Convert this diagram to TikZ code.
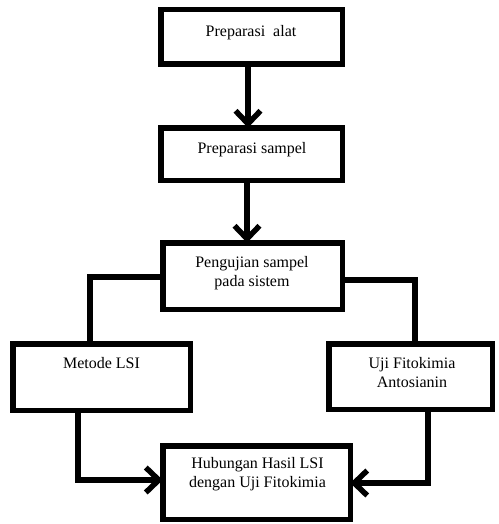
\documentclass[tikz,border=0pt]{standalone}
\usepackage{fontspec}
\setmainfont{Liberation Serif}
\usetikzlibrary{arrows.meta}
\begin{document}
\begin{tikzpicture}[x=1pt,y=-1pt,
  box/.style={draw=black,line width=5.5pt,fill=white,inner sep=0pt,outer sep=0pt},
  txt/.style={align=center,inner sep=0pt,font=\fontsize{16}{19.5}\selectfont},
  conn/.style={line width=5.5pt,line join=miter},
  arr/.style={conn,-{Straight Barb[length=13pt,width=25pt,line width=5.5pt]}}]
\useasboundingbox (0,0) rectangle (498,524);
\node[box,minimum width=181.5pt,minimum height=54.5pt] (b1) at (251.5,37) {};
\node[box,minimum width=181.5pt,minimum height=52.5pt] (b2) at (251.5,154) {};
\node[box,minimum width=179.5pt,minimum height=66.5pt] (b3) at (252.5,276) {};
\node[box,minimum width=177.5pt,minimum height=66.5pt] (b4) at (101.5,377) {};
\node[box,minimum width=163.5pt,minimum height=65.5pt] (b5) at (410.5,376.5) {};
\node[box,minimum width=187.5pt,minimum height=73.5pt] (b6) at (256.5,482.5) {};
\node[txt] (t1) at (251,33) {Preparasi\ \ alat};
\node[txt] (t2) at (252,150) {Preparasi sampel};
\node[txt] (t3) at (252,273) {Pengujian sampel\\pada sistem};
\node[txt] (t4) at (101.5,363) {Metode LSI};
\node[txt] (t5) at (412,372.5) {Uji Fitokimia\\Antosianin};
\node[txt] (t6) at (257.5,474) {Hubungan Hasil LSI\\dengan Uji Fitokimia};
\coordinate (c1) at (90,277);
\coordinate (c2) at (415,280);
\coordinate (c3) at (78,480);
\coordinate (c4) at (428,483);
\draw[arr] (b1.south -| 248,0) -- (b2.north -| 248,0);
\draw[arr] (b2.south -| 247,0) -- (b3.north -| 247,0);
\draw[conn] (b3.west |- c1) -- (c1) -- (c1 |- b4.north);
\draw[conn] (b3.east |- c2) -- (c2) -- (c2 |- b5.north);
\draw[arr] (c3 |- b4.south) -- (c3) -- (c3 -| b6.west);
\draw[arr] (c4 |- b5.south) -- (c4) -- (c4 -| b6.east);
\end{tikzpicture}
\end{document}
